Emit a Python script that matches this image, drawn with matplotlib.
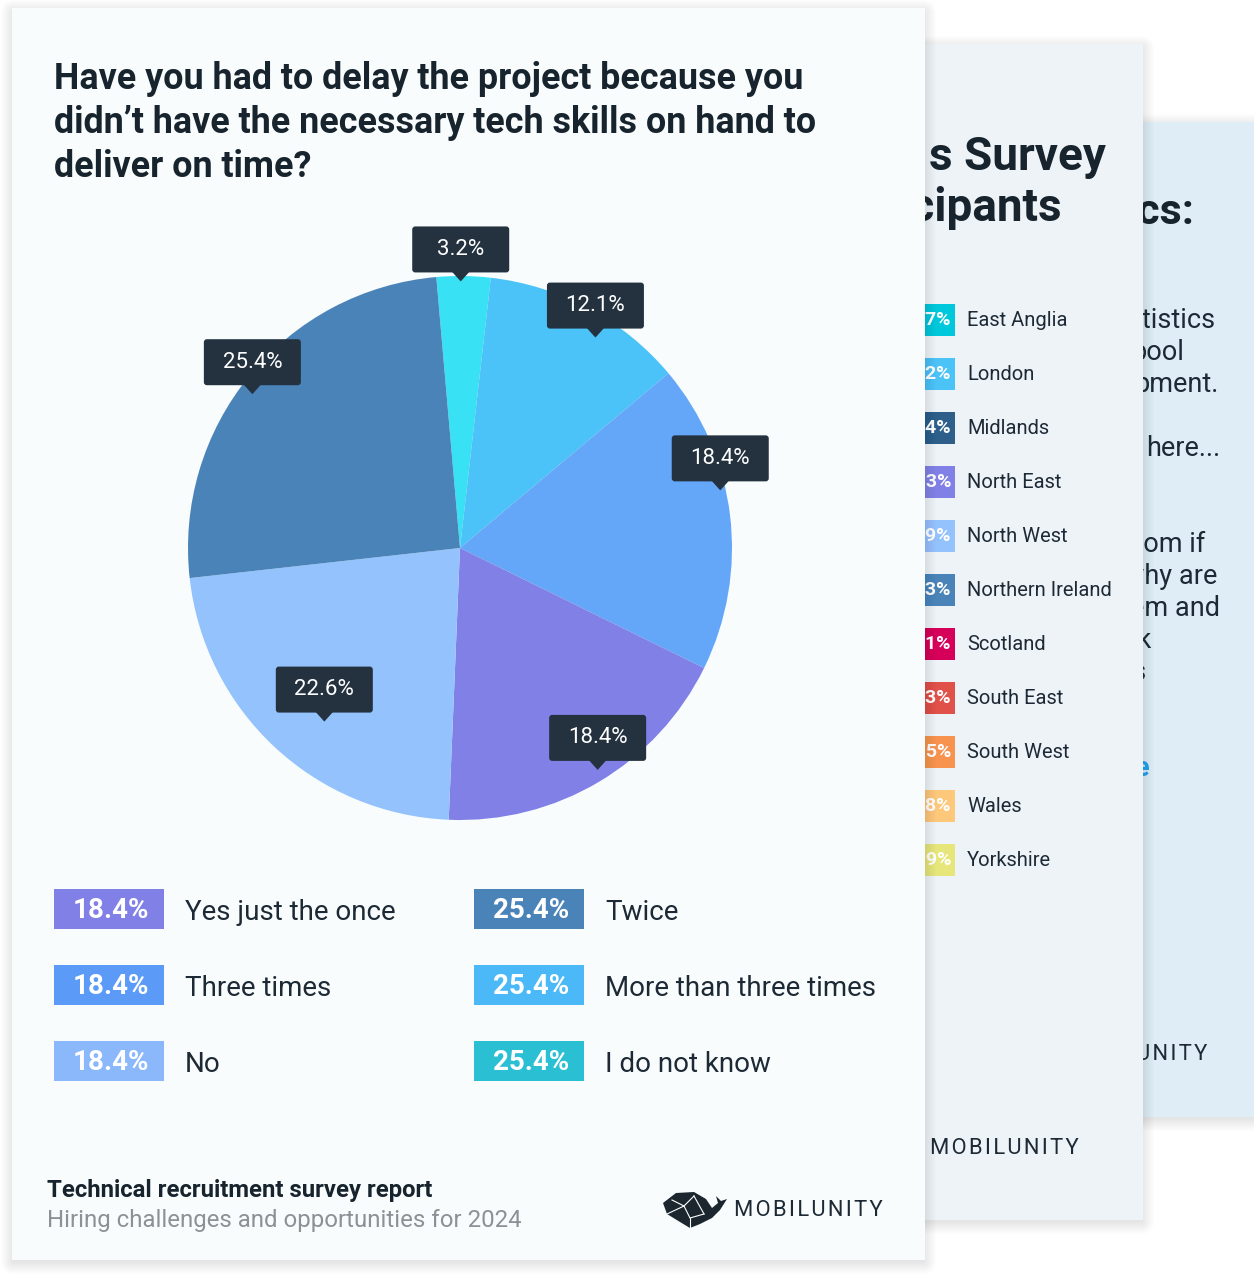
import numpy as np
import matplotlib.pyplot as plt
from matplotlib.patches import Rectangle, FancyBboxPatch, Polygon

plt.rcParams['font.family'] = ['Roboto', 'DejaVu Sans']

W, H = 1254, 1280

title_lines = ["Have you had to delay the project because you",
               "didn\u2019t have the necessary tech skills on hand to",
               "deliver on time?"]

# pie slices, clockwise from the top
pie_values = [3.2, 12.1, 18.4, 18.4, 22.6, 25.4]
pie_colors = ['#38e1f3', '#4bc2f8', '#64a6f7', '#8080e6', '#94c2fd', '#4a83b8']
label_radius = [0.98, 0.92, 0.98, 0.96, 0.81, 0.95]
label_nudge = [-0.6, 4.5, -5.6, -1.1, -5.0, -2.8]

legend_values = ['18.4%', '18.4%', '18.4%', '25.4%', '25.4%', '25.4%']
legend_labels = ['Yes just the once', 'Three times', 'No',
                 'Twice', 'More than three times', 'I do not know']
legend_colors = ['#8080e6', '#5b9bf7', '#8ab8fb', '#4a83b8', '#4bb9f8', '#2bbfd3']

# pages behind (mostly hidden, only the visible ends are written)
regions = ['East Anglia', 'London', 'Midlands', 'North East', 'North West',
           'Northern Ireland', 'Scotland', 'South East', 'South West', 'Wales', 'Yorkshire']
region_values = ['4.7%', '22.2%', '10.4%', '6.3%', '7.9%', '2.3%',
                 '4.1%', '12.3%', '8.5%', '3.8%', '5.9%']
region_colors = ['#00c8dc', '#4cc3f7', '#2d5f8a', '#8080e6', '#94c2fd', '#4a83b8',
                 '#d6005a', '#e0514a', '#f7924f', '#fdc87a', '#e6e67a']

back_lines = [('atistics', 320), ('pool', 352), ('pment.', 384),
              ('here...', 448), ('rom if', 544), ('why are', 576),
              ('em and', 608), ('ok', 640), ('ds', 672)]
back_ends = [1216, 1184, 1218, 1220, 1205, 1217, 1220, 1152, 1147]

dark = '#17232d'
text_col = '#1d2a35'
hair = '\u200a'

fig = plt.figure(figsize=(W / 100, H / 100), dpi=100)
fig.patch.set_facecolor('white')
ax = fig.add_axes([0, 0, 1, 1])
ax.set_xlim(0, W)
ax.set_ylim(H, 0)
ax.axis('off')


def card(x0, y0, x1, y1, color, z):
    for k in range(1, 14):
        ax.add_patch(FancyBboxPatch((x0 - k + 2, y0 - k + 5), x1 - x0 + 2 * k - 4,
                                    y1 - y0 + 2 * k - 4,
                                    boxstyle='round,pad=0,rounding_size=%d' % k,
                                    fc='#1c2c40', ec='none', alpha=0.009, zorder=z))
    ax.add_patch(Rectangle((x0, y0), x1 - x0, y1 - y0, fc=color, ec='none', zorder=z + 0.1))


def spaced(s):
    return hair.join(s)


# back blue card
card(700, 122, 1300, 1117, '#deedf6', 1)
ax.text(1195, 212, 'ics:', ha='right', va='center', fontsize=31,
        fontweight='bold', color=dark, zorder=2)
for (s, y), xe in zip(back_lines, back_ends):
    ax.text(xe, y, s, ha='right', va='center', fontsize=19.5, color=text_col, zorder=2)
ax.text(1150, 768, 're', ha='right', va='center', fontsize=19.5,
        fontweight='bold', color='#1fa0f0', zorder=2)
ax.text(1207, 1054, spaced('UNITY'), ha='right', va='center', fontsize=15.8,
        color=text_col, zorder=2)

# middle card
card(600, 44, 1143, 1220, '#eef3f8', 3)
ax.text(1106, 157, 's Survey', ha='right', va='center', fontsize=33,
        fontweight='bold', color=dark, zorder=4)
ax.text(1062, 208, 'icipants', ha='right', va='center', fontsize=33,
        fontweight='bold', color=dark, zorder=4)
for i, (r, v, c) in enumerate(zip(regions, region_values, region_colors)):
    y = 320 + 54 * i
    ax.add_patch(Rectangle((870, y - 16), 85, 32, fc=c, ec='none', zorder=4))
    ax.text(951, y, v, ha='right', va='center', fontsize=14, fontweight='bold',
            color='white', zorder=4.2)
    ax.text(967, y + 1, r, ha='left', va='center', fontsize=14.5, color=text_col, zorder=4.2)
ax.text(930, 1148, spaced('MOBILUNITY'), ha='left', va='center', fontsize=15.8,
        color=text_col, zorder=4.2)

# front card
card(12, 8, 925, 1260, '#f8fcfd', 5)

for i, line in enumerate(title_lines):
    ax.text(54, 79 + 44 * i, line, ha='left', va='center', fontsize=25.8,
            fontweight='bold', color=dark, zorder=6)

for i, (v, lab, c) in enumerate(zip(legend_values, legend_labels, legend_colors)):
    col, row = divmod(i, 3)
    x0 = 54 + 420 * col
    y = 909 + 76 * row
    ax.add_patch(Rectangle((x0, y - 20), 110, 40, fc=c, ec='none', zorder=6))
    ax.text(x0 + 57, y + 1, v, ha='center', va='center', fontsize=20,
            fontweight='bold', color='white', zorder=6.2)
    ax.text(x0 + 131, y + 4, lab, ha='left', va='center', fontsize=20,
            color=text_col, zorder=6.2)

ax.text(47, 1190, 'Technical recruitment survey report', ha='left', va='center',
        fontsize=17.2, fontweight='bold', color=dark, zorder=6)
ax.text(47, 1220, 'Hiring challenges and opportunities for 2024', ha='left',
        va='center', fontsize=17.3, color='#8c9196', zorder=6)

# logo
whale = [(663, 1203), (676, 1193), (694, 1192), (706, 1199), (712, 1208), (718, 1203),
         (716, 1196), (721, 1201), (727, 1199), (720, 1210), (712, 1218), (700, 1224),
         (690, 1228), (680, 1222), (667, 1214)]
ax.add_patch(Polygon(whale, closed=True, fc='#1b262e', ec='none', zorder=6))
for seg in [[(672, 1200), (684, 1206), (694, 1196)], [(684, 1206), (690, 1218), (704, 1214)],
            [(694, 1196), (704, 1214)], [(667, 1214), (684, 1206)], [(690, 1218), (690, 1228)]]:
    xs, ys = zip(*seg)
    ax.plot(xs, ys, color='white', lw=0.8, zorder=6.2)
ax.text(734, 1210, spaced('MOBILUNITY'), ha='left', va='center', fontsize=15.8,
        color=text_col, zorder=6)

# pie
cx, cy, R = 460, 548, 272
pax = fig.add_axes([(cx - 300) / W, (H - cy - 300) / H, 600 / W, 600 / H])
wedges, _ = pax.pie(pie_values, colors=pie_colors, startangle=95, counterclock=False,
                    radius=R, wedgeprops=dict(linewidth=0))
pax.set_xlim(-300, 300)
pax.set_ylim(-300, 300)
pax.set_aspect('equal')
pax.axis('off')

for w, v, f, nd in zip(wedges, pie_values, label_radius, label_nudge):
    a = np.deg2rad((w.theta1 + w.theta2) / 2 - nd)
    tx, ty = R * f * np.cos(a), R * f * np.sin(a)
    pax.add_patch(Polygon([(tx - 9, ty + 10), (tx + 9, ty + 10), (tx, ty)],
                          closed=True, fc='#243240', ec='none', clip_on=False, zorder=5))
    pax.add_patch(FancyBboxPatch((tx - 48.5, ty + 9), 97, 46,
                                 boxstyle='round,pad=0,rounding_size=3',
                                 fc='#243240', ec='none', clip_on=False, zorder=5))
    pax.text(tx, ty + 32, '%.1f%%' % v, ha='center', va='center', fontsize=16,
             color='white', zorder=6, clip_on=False)

fig.savefig('out.png', dpi=100, facecolor='white')
